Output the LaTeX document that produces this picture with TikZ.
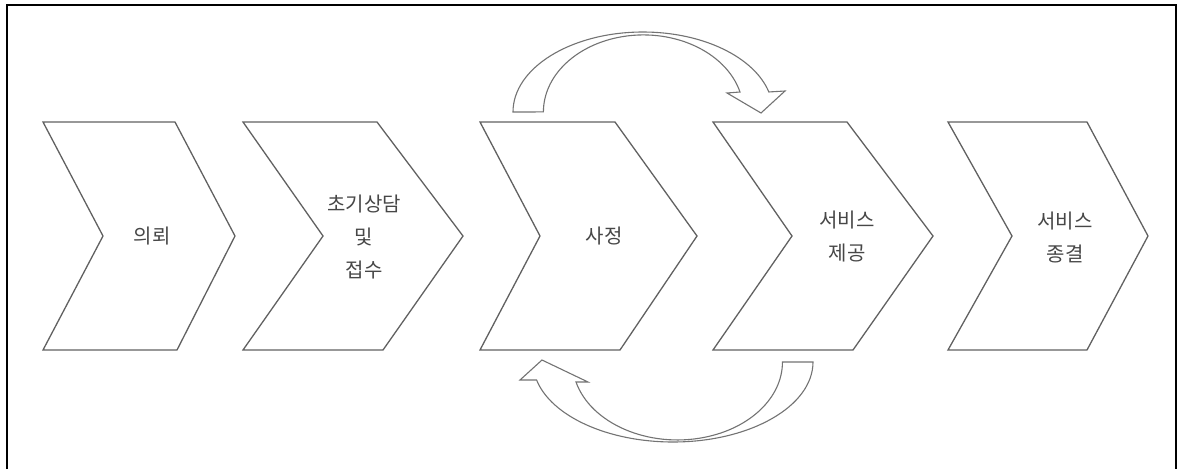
\documentclass[tikz,border=0pt]{standalone}
\usepackage{fontspec}
\newfontfamily\kfont{Noto Sans CJK KR}
\begin{document}
\begin{tikzpicture}[x=1pt,y=-1pt,
  chev/.style={draw=black!62,line width=1.3pt,fill=white,line join=miter},
  carrow/.style={draw=black!55,line width=1.1pt,fill=white,line join=miter},
  lbl/.style={font=\kfont\fontsize{20}{33}\selectfont,text=black!72,align=center,inner sep=0pt}]
\useasboundingbox (0,0) rectangle (1179,469);
% frame (three sides)
\draw[black,line width=1.8pt] (7,469) -- (7,5) -- (1176,5) -- (1176,469);
% chevrons
\draw[chev] (43,122) -- (175,122) -- (235,236) -- (177,350) -- (43,350) -- (103,236) -- cycle;
\draw[chev] (243,122) -- (377,122) -- (463,236) -- (383,350) -- (243,350) -- (323,236) -- cycle;
\draw[chev] (480,122) -- (615,122) -- (697,236) -- (620,350) -- (480,350) -- (540,236) -- cycle;
\draw[chev] (713,122) -- (847,122) -- (933,236) -- (853,350) -- (713,350) -- (792,236) -- cycle;
\draw[chev] (948,122) -- (1087,122) -- (1148,236) -- (1087,350) -- (948,350) -- (1012,236) -- cycle;
% upper curved arrow
\draw[carrow] (513,112) arc[start angle=180,end angle=345.5,x radius=130,y radius=80]
  -- (785,91) -- (761,113) -- (727,93) -- (740,92)
  arc[start angle=345,end angle=180,x radius=100,y radius=77] -- cycle;
% lower curved arrow
\draw[carrow] (813,362) arc[start angle=0,end angle=167,x radius=140,y radius=80]
  -- (520,380) -- (542,360) -- (588,382) -- (576,382)
  arc[start angle=165.1,end angle=0,x radius=105,y radius=78] -- cycle;
% labels
\node[lbl] (n1) at (152,236) {의뢰};
\node[lbl] (n2) at (364,237) {초기상담\\및\\접수};
\node[lbl] (n3) at (604,236) {사정};
\node[lbl] (n4) at (847,237) {서비스\\제공};
\node[lbl] (n5) at (1065,237) {서비스\\종결};
\end{tikzpicture}
\end{document}
